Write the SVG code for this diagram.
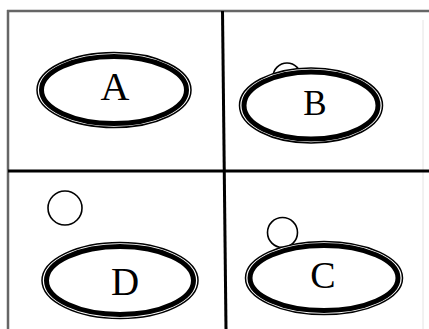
<svg xmlns="http://www.w3.org/2000/svg" width="429" height="329" viewBox="0 0 429 329">
<style>
.frame{stroke:#666;stroke-width:2.5;fill:none}
.div{stroke:#000;stroke-width:3;fill:none}
.o{fill:#fff;stroke:#000;stroke-width:1.5}
.i{fill:#fff;stroke:#000;stroke-width:5}
.c{fill:#fff;stroke:#000;stroke-width:1.6}
text{font-family:"Liberation Serif","Times New Roman",serif;text-anchor:middle;fill:#000}
</style>
<rect width="429" height="329" fill="#fff"/>
<g id="frame">
<line class="frame" x1="7" y1="11" x2="429" y2="11"/>
<line class="frame" x1="8" y1="10" x2="8" y2="329"/>
<line x1="423" y1="20" x2="423" y2="329" stroke="#e4e4e4" stroke-width="1"/>
</g>
<g id="connectors">
<line class="div" x1="222.5" y1="11" x2="226" y2="329"/>
<line class="div" x1="8" y1="171" x2="429" y2="171"/>
</g>
<g id="nodeA">
<ellipse class="o" cx="114" cy="90" rx="77" ry="37.5"/>
<ellipse class="i" cx="114" cy="90" rx="72.5" ry="33.5"/>
<text x="115" y="100" font-size="40">A</text>
</g>
<g id="nodeB">
<circle class="c" cx="287" cy="77" r="14"/>
<ellipse class="o" cx="311" cy="105.5" rx="71.5" ry="37.5"/>
<ellipse class="i" cx="311" cy="105.5" rx="67" ry="33.5"/>
<text x="315" y="115" font-size="35">B</text>
</g>
<g id="nodeD">
<circle class="c" cx="65" cy="208" r="17"/>
<ellipse class="o" cx="120" cy="280.5" rx="78" ry="38"/>
<ellipse class="i" cx="120" cy="280.5" rx="73.5" ry="34"/>
<text x="125" y="295" font-size="39">D</text>
</g>
<g id="nodeC">
<circle class="c" cx="282.5" cy="232.5" r="15"/>
<ellipse class="o" cx="324" cy="278" rx="78.5" ry="36.5"/>
<ellipse class="i" cx="324" cy="278" rx="74" ry="32.5"/>
<text x="323" y="288" font-size="38">C</text>
</g>
</svg>
